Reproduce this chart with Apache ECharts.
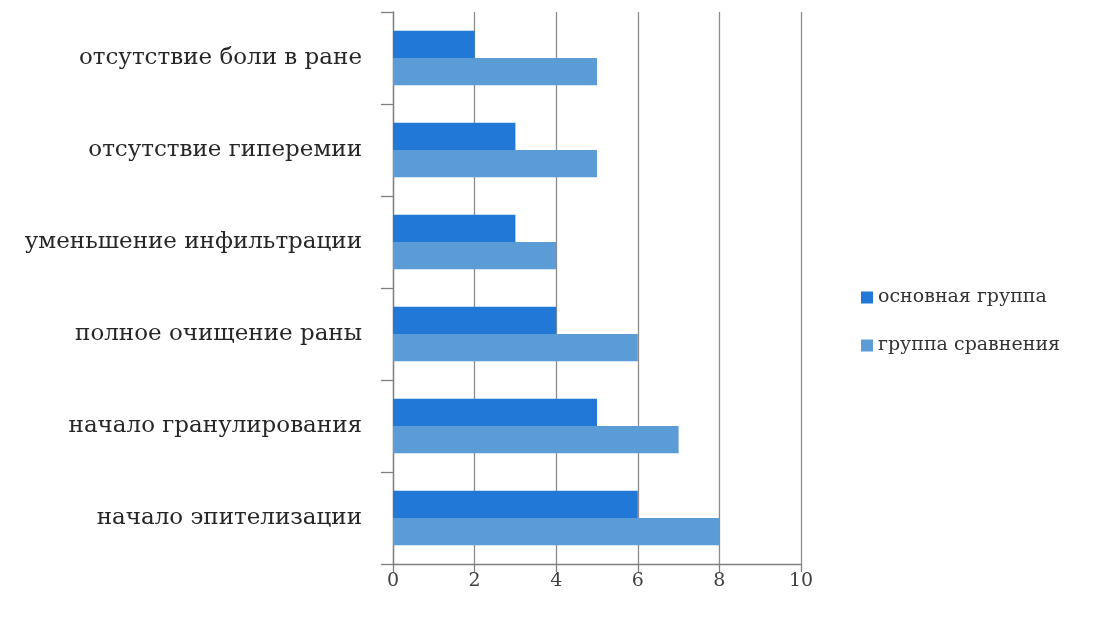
<!DOCTYPE html>
<html>
<head>
<meta charset="utf-8">
<script src="https://cdn.jsdelivr.net/npm/echarts@6/dist/echarts.min.js"></script>
<style>
  html, body { margin: 0; padding: 0; background: #fff; }
  #chart { width: 1119px; height: 622px; }
</style>
</head>
<body>
<div id="chart"></div>
<script>
// Healing milestones (days) for the two patient groups
const categories = [
  'отсутствие боли в ране',
  'отсутствие гиперемии',
  'уменьшение инфильтрации',
  'полное очищение раны',
  'начало гранулирования',
  'начало эпителизации'
];
const mainGroup = [2, 3, 3, 4, 5, 6];
const compareGroup = [5, 5, 4, 6, 7, 8];
const seriesNames = ['основная группа', 'группа сравнения'];
const xTicks = [0, 2, 4, 6, 8, 10];

const font = '"DejaVu Serif", "Liberation Serif", serif';
const chart = echarts.init(document.getElementById('chart'));

chart.setOption({
  animation: false,
  backgroundColor: '#ffffff',
  grid: { left: 393, right: 318, top: 12, bottom: 58, containLabel: false },
  legend: {
    orient: 'vertical',
    left: 856,
    top: 283,
    itemWidth: 12,
    itemHeight: 12,
    itemGap: 29,
    icon: 'rect',
    textStyle: { fontFamily: font, fontSize: 19, color: '#333' },
    data: seriesNames
  },
  xAxis: {
    type: 'value',
    min: xTicks[0],
    max: xTicks[xTicks.length - 1],
    interval: 2,
    axisLine: { show: true, lineStyle: { color: '#7f7f7f', width: 1.3 } },
    axisTick: { show: true, length: 8, lineStyle: { color: '#7f7f7f', width: 1.3 } },
    splitLine: { show: true, lineStyle: { color: '#8c8c8c', width: 1.3 } },
    axisLabel: { fontFamily: font, fontSize: 19, color: '#404040', margin: 8 }
  },
  yAxis: {
    type: 'category',
    inverse: true,
    data: categories,
    axisLine: { show: true, lineStyle: { color: '#7f7f7f', width: 1.3 } },
    axisTick: { show: true, length: 12, alignWithLabel: false, lineStyle: { color: '#7f7f7f', width: 1.3 } },
    axisLabel: { fontFamily: font, fontSize: 23, color: '#262626', margin: 31 }
  },
  series: [
    {
      name: seriesNames[0],
      type: 'bar',
      data: mainGroup,
      barGap: '0%',
      barCategoryGap: '41%',
      itemStyle: { color: '#2178d6' }
    },
    {
      name: seriesNames[1],
      type: 'bar',
      data: compareGroup,
      barGap: '0%',
      barCategoryGap: '41%',
      itemStyle: { color: '#5b9bd6' }
    }
  ]
});
</script>
</body>
</html>
